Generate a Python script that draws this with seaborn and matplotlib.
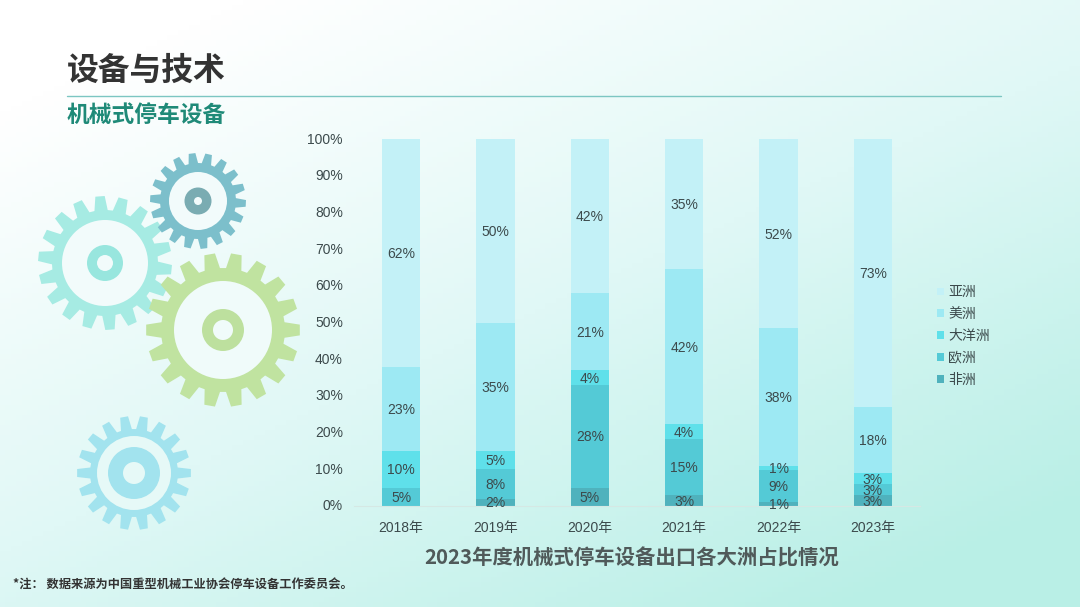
import numpy as np
import matplotlib
matplotlib.use("Agg")
import matplotlib.pyplot as plt
from matplotlib.patches import Polygon, Circle
from matplotlib.colors import LinearSegmentedColormap
from matplotlib.transforms import ScaledTranslation
import seaborn as sns

sns.set_theme(style="white")
plt.rcParams['font.family'] = ['Liberation Sans', 'Noto Sans CJK SC', 'DejaVu Sans']

years = ["2018年", "2019年", "2020年", "2021年", "2022年", "2023年"]
africa = [0, 2, 5, 3, 1, 3]
europe = [5, 8, 28, 15, 9, 3]
oceania = [10, 5, 4, 4, 1, 3]
america = [23, 35, 21, 42, 38, 18]
asia = [62, 50, 42, 35, 52, 73]
series_names = ["非洲", "欧洲", "大洋洲", "美洲", "亚洲"]
series_values = [africa, europe, oceania, america, asia]
series_colors = ["#4fb2bd", "#54cad6", "#5fe0ea", "#9de9f3", "#c3f1f7"]
title = "设备与技术"
subtitle = "机械式停车设备"
chart_title = "2023年度机械式停车设备出口各大洲占比情况"
footnote = "*注： 数据来源为中国重型机械工业协会停车设备工作委员会。"

W, H = 1080, 607
fig = plt.figure(figsize=(W / 100, H / 100), dpi=100)


def fx(x):
    return x / W


def fy(y):
    return 1 - y / H


# background gradient and decoration layer, in pixel coordinates
bg = fig.add_axes([0, 0, 1, 1], zorder=0)
bg.set_xlim(0, W)
bg.set_ylim(H, 0)
bg.axis("off")
xx, yy = np.meshgrid(np.linspace(0, 1, 200), np.linspace(0, 1, 120))
t = np.clip(0.55 * xx + 0.68 * yy - 0.12, 0, 1)
cmap = LinearSegmentedColormap.from_list("bg", ["#ffffff", "#e0f8f6", "#b9efe6"])
bg.imshow(t, cmap=cmap, extent=(0, W, H, 0), aspect="auto", vmin=0, vmax=1)


def gear(cx, cy, r_out, r_root, r_white, r_ring, r_hole, teeth, color, ring, wc, phase=0.0):
    pts = []
    step = 2 * np.pi / teeth
    for i in range(teeth):
        a = phase + i * step
        for frac, r in ((-0.36, r_root), (-0.2, r_out), (0.2, r_out), (0.36, r_root)):
            ang = a + frac * step
            pts.append((cx + r * np.cos(ang), cy + r * np.sin(ang)))
    bg.add_patch(Polygon(pts, closed=True, fc=color, ec="none"))
    bg.add_patch(Circle((cx, cy), r_white, fc=wc, ec="none"))
    bg.add_patch(Circle((cx, cy), r_ring, fc=ring, ec="none"))
    bg.add_patch(Circle((cx, cy), r_hole, fc=wc, ec="none"))


gear(105, 263, 67, 53, 43, 18, 8, 18, "#a6ebe3", "#98e6de", "#f2fbfb", 0.1)
gear(198, 201, 48, 38, 29, 13.5, 4, 18, "#7cbfcb", "#7aacb2", "#f2fbfb", 0.05)
gear(223, 330, 77, 62, 49, 21, 10, 18, "#c0e3a0", "#bde09e", "#f0fbfa", 0.0)
gear(134, 473, 57, 44, 37, 26, 11, 18, "#a2e3ee", "#a2e3ee", "#e6f9f7", 0.0)

bg.plot([67, 1001], [95.5, 95.5], color="#7cc6c2", lw=1)
fig.text(fx(67), fy(71), title, fontsize=22.9, fontweight="bold", color="#333333",
         va="center", ha="left", family="Noto Sans CJK SC")
fig.text(fx(67), fy(115), subtitle, fontsize=16.4, fontweight="bold", color="#1f8a78",
         va="center", ha="left", family="Noto Sans CJK SC")
fig.text(fx(632), fy(558), chart_title, fontsize=14.7, fontweight="bold", color="#505a5a",
         va="center", ha="center", family="Noto Sans CJK SC")
fig.text(fx(13), fy(585), footnote, fontsize=8.8, fontweight="bold", color="#333333",
         va="center", ha="left", family="Noto Sans CJK SC")

# chart
ax = fig.add_axes([fx(354), fy(506), (920 - 354) / W, (506 - 139) / H], zorder=1)
ax.patch.set_alpha(0)
values = np.array(series_values, dtype=float)
shares = values / values.sum(axis=0) * 100
bottom = np.zeros(len(years))
for name, raw, share, color in zip(series_names, values, shares, series_colors):
    sns.barplot(x=years, y=share, bottom=bottom, color=color, width=0.405, saturation=1,
                label=name, ax=ax, legend=False, linewidth=0, edgecolor="none")
    bars = ax.containers[-1]
    labels = [f"{int(v)}%" if v > 0 else "" for v in raw]
    for txt in ax.bar_label(bars, labels=labels, label_type="center", fontsize=10, color="#3c4a4c"):
        txt.xyann = (0, -0.8)
    bottom = bottom + share

ax.set_xlim(-0.5, 5.5)
ax.set_ylim(0, 100)
ax.set_yticks(np.arange(0, 101, 10))
ax.set_yticklabels([f"{v}%" for v in range(0, 101, 10)])
ax.tick_params(axis="both", length=0, labelsize=10, labelcolor="#3c4a4c")
ax.tick_params(axis="x", pad=10.5)
ax.tick_params(axis="y", pad=8)
shift = ScaledTranslation(0, 1 / 100, fig.dpi_scale_trans)
for lbl in ax.get_yticklabels():
    lbl.set_transform(lbl.get_transform() + shift)
ax.set_xlabel("")
ax.set_ylabel("")
sns.despine(ax=ax, left=True)
ax.spines["bottom"].set_color("#d5e8e4")
ax.spines["bottom"].set_linewidth(0.8)

handles, leg_labels = ax.get_legend_handles_labels()
ax.legend(handles[::-1], leg_labels[::-1], loc="center left",
          bbox_to_anchor=(fx(937), fy(336)), bbox_transform=fig.transFigure,
          frameon=False, fontsize=10, labelcolor="#3c4a4c", handlelength=0.5,
          handleheight=0.5, handletextpad=0.3, labelspacing=0.56, borderpad=0, borderaxespad=0)

fig.savefig("out.png", dpi=100)
